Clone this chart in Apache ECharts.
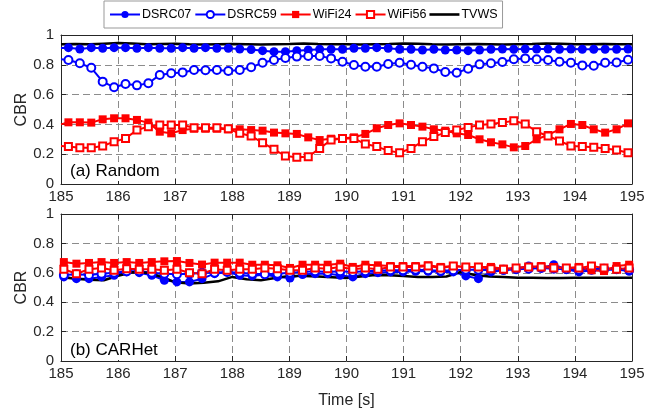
<!DOCTYPE html>
<html>
<head>
<meta charset="utf-8">
<script src="https://cdn.jsdelivr.net/npm/echarts@6/dist/echarts.min.js"></script>
<style>
  html, body { margin: 0; padding: 0; background: #fff; }
  #main { width: 658px; height: 411px; }
</style>
</head>
<body>
<div id="main"></div>
<script>
// x range + sampling grids (marker positions in seconds)
var xTicks = [185, 186, 187, 188, 189, 190, 191, 192, 193, 194, 195];
var topTime = [];
for (var k = 0; k < 50; k++) topTime.push(+(185.13 + 0.2 * k).toFixed(2));
var botTime = [];
for (var k = 0; k < 46; k++) botTime.push(+(185.05 + 0.22 * k).toFixed(2));
var tvwsTime = [];
for (var k = 0; k <= 40; k++) tvwsTime.push(185 + 0.25 * k);

// (a) Random
var topDSRC07 = [0.915,0.906,0.915,0.911,0.915,0.915,0.911,0.915,0.911,0.911,0.915,0.911,0.915,0.911,0.911,0.906,0.902,
  0.895,0.888,0.888,0.895,0.899,0.904,0.904,0.904,0.911,0.911,0.915,0.911,0.904,0.904,0.899,0.904,
  0.899,0.899,0.895,0.899,0.904,0.906,0.904,0.906,0.906,0.906,0.904,0.906,0.904,0.904,0.904,0.904,0.906];
var topDSRC59 = [0.832,0.81,0.78,0.687,0.649,0.671,0.662,0.676,0.732,0.743,0.749,0.765,0.763,0.765,0.758,0.765,0.783,
  0.814,0.832,0.846,0.855,0.859,0.859,0.843,0.821,0.799,0.787,0.787,0.805,0.814,0.80,0.787,0.776,
  0.752,0.747,0.774,0.803,0.81,0.819,0.837,0.843,0.837,0.832,0.821,0.814,0.796,0.794,0.814,0.816,0.834];
var topWiFi24 = [0.414,0.414,0.412,0.434,0.441,0.441,0.43,0.412,0.351,0.34,0.362,0.371,0.371,0.371,0.367,0.367,0.362,
  0.358,0.345,0.34,0.336,0.313,0.295,0.304,0.306,0.313,0.336,0.374,0.396,0.407,0.396,0.385,0.367,
  0.358,0.34,0.329,0.30,0.28,0.266,0.246,0.255,0.30,0.329,0.367,0.403,0.396,0.367,0.345,0.367,0.407];
var topWiFi56 = [0.251,0.244,0.244,0.255,0.284,0.306,0.362,0.385,0.396,0.396,0.396,0.378,0.378,0.378,0.371,0.34,0.322,
  0.277,0.233,0.188,0.179,0.183,0.239,0.295,0.306,0.306,0.268,0.251,0.224,0.21,0.239,0.284,0.318,
  0.345,0.362,0.38,0.396,0.403,0.412,0.425,0.403,0.351,0.322,0.289,0.255,0.251,0.246,0.239,0.228,0.21];
var topTVWS = [0.938,0.94,0.938,0.942,0.946,0.943,0.938,0.94,0.942,0.938,0.936,0.938,0.94,0.938,0.936,0.938,0.94,0.943,0.94,0.938,
  0.938,0.936,0.938,0.94,0.943,0.941,0.938,0.936,0.938,0.94,0.938,0.936,0.938,0.94,0.943,0.941,0.938,0.938,0.94,0.938,0.938];
// line values at 185 s and 195 s (no marker there)
var topStart = [0.912, 0.837, 0.40, 0.255];
var topEnd = [0.906, 0.836, 0.41, 0.208];

// (b) CARHet
var botDSRC07 = [0.572,0.56,0.56,0.572,0.583,0.606,0.601,0.583,0.549,0.538,0.538,0.56,
  0.594,0.606,0.583,0.579,0.588,0.572,0.565,0.588,0.594,0.594,0.583,
  0.572,0.594,0.601,0.606,0.606,0.61,0.61,0.606,0.606,0.579,0.56,
  0.606,0.617,0.628,0.646,0.633,0.655,0.624,0.606,0.617,0.617,0.624,0.61];
var botDSRC59 = [0.585,0.59,0.585,0.594,0.6,0.61,0.61,0.6,0.594,0.59,0.594,0.6,
  0.6,0.606,0.6,0.594,0.59,0.594,0.6,0.606,0.61,0.606,0.61,
  0.606,0.61,0.614,0.617,0.617,0.62,0.617,0.614,0.617,0.62,0.62,
  0.617,0.62,0.624,0.628,0.633,0.628,0.624,0.62,0.624,0.628,0.624,0.62];
var botWiFi24 = [0.673,0.662,0.667,0.673,0.667,0.673,0.667,0.673,0.678,0.68,0.667,0.656,
  0.669,0.669,0.669,0.655,0.655,0.651,0.633,0.655,0.655,0.655,0.662,
  0.64,0.655,0.651,0.646,0.646,0.646,0.651,0.64,0.646,0.64,0.64,
  0.64,0.628,0.633,0.64,0.646,0.64,0.633,0.64,0.617,0.612,0.646,0.655];
var botWiFi56 = [0.624,0.594,0.624,0.633,0.617,0.628,0.624,0.624,0.617,0.624,0.60,0.594,
  0.624,0.617,0.624,0.624,0.633,0.628,0.617,0.617,0.633,0.628,0.64,
  0.624,0.633,0.624,0.64,0.64,0.64,0.646,0.633,0.646,0.64,0.64,
  0.628,0.624,0.633,0.64,0.64,0.633,0.633,0.633,0.646,0.633,0.624,0.633];
var botTVWS = [0.572,0.56,0.552,0.549,0.58,0.604,0.60,0.575,0.535,0.527,0.533,0.542,0.572,0.556,0.549,0.565,
  0.579,0.579,0.575,0.57,0.565,0.575,0.585,0.583,0.578,0.572,0.572,0.575,0.605,0.585,0.575,0.572,
  0.567,0.566,0.565,0.565,0.566,0.567,0.567,0.567,0.567];

var names = ['DSRC07', 'DSRC59', 'WiFi24', 'WiFi56', 'TVWS'];
var BLUE = '#0000ff', RED = '#ff0000';
var FONT = 'Arial, "Liberation Sans", sans-serif';

var looks = {
    DSRC07: { color: BLUE, symbol: 'circle', size: 9, fill: BLUE, border: 0 },
    DSRC59: { color: BLUE, symbol: 'circle', size: 8, fill: '#fff', border: 2 },
    WiFi24: { color: RED, symbol: 'rect', size: 8, fill: RED, border: 0 },
    WiFi56: { color: RED, symbol: 'rect', size: 7, fill: '#fff', border: 2 },
    TVWS: { color: '#000', symbol: 'none', size: 0, fill: '#000', border: 0 }
};

function mkSeries(name, gi, times, vals, start, end) {
    var lk = looks[name];
    var data = times.map(function(t, i) { return [t, vals[i]]; });
    if (start != null) data.unshift({ value: [185, start], symbol: 'none' });
    if (end != null) data.push({ value: [195, end], symbol: 'none' });
    return {
        name: name,
        type: 'line',
        xAxisIndex: gi,
        yAxisIndex: gi,
        data: data,
        symbol: lk.symbol,
        symbolSize: lk.size,
        showSymbol: lk.symbol !== 'none',
        lineStyle: { color: lk.color, width: name === 'TVWS' ? 2.5 : 2 },
        itemStyle: { color: lk.fill, borderColor: lk.color, borderWidth: lk.border },
        color: lk.color,
        emphasis: { disabled: true }
    };
}

function xAx(gi, pos, labels) {
    return {
        type: 'value', gridIndex: gi, position: pos, min: 185, max: 195, interval: 1,
        axisLine: { show: true, onZero: false, lineStyle: { color: '#262626', width: 1 } },
        axisTick: { show: true, inside: true, length: 5, lineStyle: { color: '#262626' } },
        axisLabel: { show: labels, color: '#262626', fontSize: 15, fontFamily: FONT, margin: 5 },
        splitLine: { show: pos === 'bottom', lineStyle: { color: '#8c8c8c', type: [7, 4], width: 1 } }
    };
}
function yAx(gi, pos, labels) {
    return {
        type: 'value', gridIndex: gi, position: pos, min: 0, max: 1, interval: 0.2,
        name: labels ? 'CBR' : '', nameLocation: 'middle', nameGap: 31,
        nameMoveOverlap: false,
        nameTextStyle: { color: '#262626', fontSize: 16, fontFamily: FONT },
        axisLine: { show: true, lineStyle: { color: '#262626', width: 1 } },
        axisTick: { show: true, inside: true, length: 5, lineStyle: { color: '#262626' } },
        axisLabel: { show: labels, color: '#262626', fontSize: 15, fontFamily: FONT, margin: 7 },
        splitLine: { show: pos === 'left', lineStyle: { color: '#8c8c8c', type: [7, 4], width: 1 } }
    };
}

var xBottom = xAx(1, 'bottom', true);
xBottom.name = 'Time [s]';
xBottom.nameLocation = 'middle';
xBottom.nameGap = 32;
xBottom.nameTextStyle = { color: '#262626', fontSize: 16, fontFamily: FONT };

var series = [
    mkSeries('DSRC07', 0, topTime, topDSRC07, topStart[0], topEnd[0]),
    mkSeries('DSRC59', 0, topTime, topDSRC59, topStart[1], topEnd[1]),
    mkSeries('WiFi24', 0, topTime, topWiFi24, topStart[2], topEnd[2]),
    mkSeries('WiFi56', 0, topTime, topWiFi56, topStart[3], topEnd[3]),
    mkSeries('TVWS', 0, tvwsTime, topTVWS),
    mkSeries('DSRC07', 1, botTime, botDSRC07),
    mkSeries('DSRC59', 1, botTime, botDSRC59),
    mkSeries('WiFi24', 1, botTime, botWiFi24),
    mkSeries('WiFi56', 1, botTime, botWiFi56),
    mkSeries('TVWS', 1, tvwsTime, botTVWS)
];

var legendData = names.map(function(n) {
    if (n === 'TVWS') return { name: n, icon: 'path://M0,0L30,0L30,2.6L0,2.6Z' };
    return { name: n };
});

var chart = echarts.init(document.getElementById('main'), null, { renderer: 'canvas' });
chart.setOption({
    animation: false,
    backgroundColor: '#fff',
    textStyle: { fontFamily: FONT },
    title: [
        { text: '(a) Random', left: 66, top: 162, padding: [1, 4],
          backgroundColor: '#fff', textStyle: { fontSize: 17, fontWeight: 'normal', color: '#000', fontFamily: FONT } },
        { text: '(b) CARHet', left: 66, top: 341, padding: [1, 4],
          backgroundColor: '#fff', textStyle: { fontSize: 17, fontWeight: 'normal', color: '#000', fontFamily: FONT } }
    ],
    legend: {
        data: legendData,
        left: 104, top: 1,
        padding: [7, 5],
        itemWidth: 30, itemHeight: 9, itemGap: 3,
        borderColor: '#999', borderWidth: 1,
        backgroundColor: '#fff',
        textStyle: { fontSize: 12.5, color: '#000', fontFamily: FONT, padding: [0, 0, 0, -3] }
    },
    grid: [
        { left: 61, right: 26, top: 35, height: 149, show: false },
        { left: 61, right: 26, top: 214, height: 147, show: false }
    ],
    xAxis: [xAx(0, 'bottom', true), xBottom, xAx(0, 'top', false), xAx(1, 'top', false)],
    yAxis: [yAx(0, 'left', true), yAx(1, 'left', true), yAx(0, 'right', false), yAx(1, 'right', false)],
    series: series
});
</script>
</body>
</html>
